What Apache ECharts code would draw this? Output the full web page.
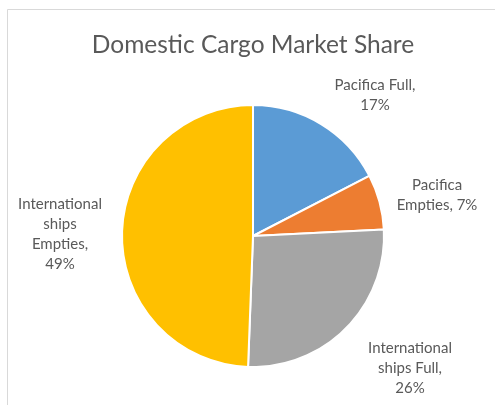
<!DOCTYPE html>
<html><head><meta charset="utf-8">
<script src="https://cdn.jsdelivr.net/npm/echarts@6/dist/echarts.min.js"></script>
<style>html,body{margin:0;padding:0;background:#fff}#c{width:495px;height:405px}</style>
</head><body><div id="c"></div>
<script>
const categories = ["Pacifica Full", "Pacifica Empties", "International ships Full", "International ships Empties"];
const labelTexts = ["Pacifica Full,\n17%", "Pacifica\nEmpties, 7%", "International\nships Full,\n26%", "International\nships\nEmpties,\n49%"];
const values = [17.4, 6.8, 26.4, 49.4];
const colors = ["#5B9BD5", "#ED7D31", "#A5A5A5", "#FFC000"];
const labelPos = [[375, 95], [437, 195], [410, 368], [60, 234]];

const chart = echarts.init(document.getElementById('c'), null, {renderer: 'canvas'});
chart.setOption({
  animation: false,
  backgroundColor: '#fff',
  graphic: [{type: 'rect', shape: {x: 7.5, y: 9.5, width: 600, height: 600}, style: {fill: 'none', stroke: '#d9d9d9', lineWidth: 1}, silent: true}],
  title: {
    text: 'Domestic Cargo Market Share', left: 248, textAlign: 'center', top: 28,
    textStyle: {fontFamily: 'Lato', fontSize: 24.5, fontWeight: 'normal', color: '#595959'}
  },
  series: [{
    type: 'pie',
    center: [253, 236],
    radius: 131,
    startAngle: 90,
    clockwise: true,
    label: {
      show: true, position: 'outside', overflow: 'none', alignTo: 'none', bleedMargin: 0,
      fontFamily: 'Lato', fontSize: 15, color: '#595959', lineHeight: 20, align: 'center',
      formatter: p => labelTexts[p.dataIndex]
    },
    labelLine: {show: false},
    labelLayout: p => ({x: labelPos[p.dataIndex][0], y: labelPos[p.dataIndex][1], align: 'center', verticalAlign: 'middle'}),
    itemStyle: {borderColor: '#fff', borderWidth: 2},
    emphasis: {disabled: true},
    data: categories.map((c, i) => ({name: c, value: values[i], itemStyle: {color: colors[i]}}))
  }]
});
</script></body></html>
